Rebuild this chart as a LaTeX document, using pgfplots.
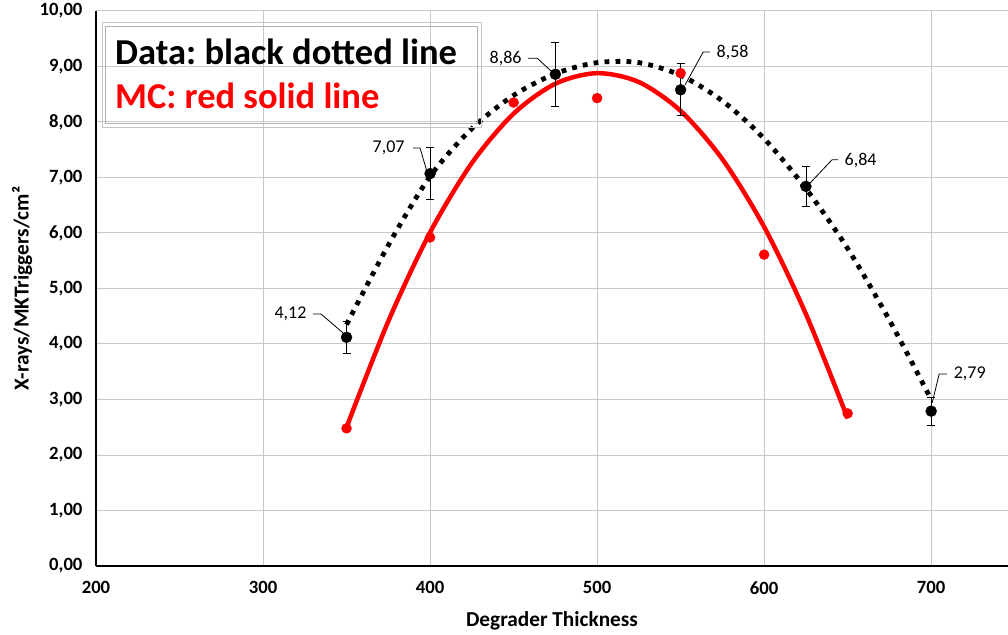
\documentclass[border=0pt]{standalone}
\usepackage{fontspec}
\setmainfont{Carlito}
\usepackage{pgfplots}
\pgfplotsset{compat=1.18}
\definecolor{gridgray}{RGB}{200,200,200}
\definecolor{mcred}{RGB}{255,0,0}
\frenchspacing
\begin{document}
\begin{tikzpicture}[x=1pt,y=1pt]
\path[use as bounding box] (-96,-68) rectangle (912,566);
\begin{axis}[
  at={(0,0)}, anchor=south west,
  scale only axis, width=912pt, height=555pt,
  xmin=200, xmax=746, ymin=0, ymax=10,
  xtick={200,300,...,700}, ytick={0,1,...,10},
  grid=major, grid style={gridgray, line width=1pt},
  axis x line*=bottom, axis y line*=left,
  axis line style={black, line width=2pt, -},
  major tick length=0pt,
  /pgf/number format/assume math mode=true,
  yticklabel style={font=\bfseries\fontsize{18.7}{22}\selectfont, anchor=east, xshift=-10pt,
    /pgf/number format/.cd, fixed, fixed zerofill, precision=2, use comma},
  xticklabel style={font=\bfseries\fontsize{18.7}{22}\selectfont, anchor=north, yshift=-12pt,
    /pgf/number format/.cd, fixed, precision=0, 1000 sep={}},
  xlabel={Degrader Thickness}, ylabel={X-rays/MKTriggers/cm²},
  every axis x label/.style={at={(axis description cs:0.5,-0.099)}, anchor=center},
  every axis y label/.style={at={(axis description cs:-0.0811,0.5)}, rotate=90, anchor=center},
  label style={font=\bfseries\fontsize{21.3}{25}\selectfont},
]
% MC trendline (red solid)
\addplot[mcred, line width=4.5pt, smooth] coordinates {
 (350,2.50) (375,4.41) (400,6.01) (425,7.26) (450,8.15) (475,8.69) (500,8.88)
 (525,8.72) (550,8.20) (575,7.33) (600,6.11) (625,4.54) (650,2.66)};
% Data trendline (black dotted)
\addplot[black, line width=4.8pt, dash pattern=on 4.8pt off 6.2pt, smooth] coordinates {
 (350,4.35) (375,5.78) (400,7.02) (425,7.88) (450,8.48) (475,8.87) (500,9.07)
 (525,9.07) (550,8.84) (575,8.38) (600,7.70) (625,6.80) (650,5.72) (675,4.43) (700,3.00)};
% MC points
\addplot[only marks, mark=*, mark size=5pt, color=mcred, mark options={fill=mcred}] coordinates {
 (350,2.48) (400,5.92) (450,8.35) (500,8.43) (550,8.88) (600,5.61) (650,2.75)};
% Data points with error bars
\addplot[only marks, mark=*, mark size=5.5pt, black,
  error bars/.cd, y dir=both, y explicit,
  error bar style={line width=0.8pt, black},
  error mark options={rotate=90, mark size=4pt, line width=0.8pt, black}]
 table[x=x, y=y, y error=e] {
x y e
350 4.12 0.29
400 7.07 0.47
475 8.86 0.57
550 8.58 0.47
625 6.84 0.36
700 2.79 0.25
};
% data labels with leader lines
\draw[black, line width=0.8pt] (axis cs:329.9,4.54) -- (axis cs:334.7,4.54) -- (axis cs:347.9,4.20);
\node[anchor=east, font=\fontsize{18}{21}\selectfont] at (axis cs:328.1,4.54) {4,12};
\draw[black, line width=0.8pt] (axis cs:389.8,7.53) -- (axis cs:394.0,7.53) -- (axis cs:398.2,7.10);
\node[anchor=east, font=\fontsize{18}{21}\selectfont] at (axis cs:386.8,7.53) {7,07};
\draw[black, line width=0.8pt] (axis cs:458.7,9.15) -- (axis cs:464.1,9.15) -- (axis cs:473.1,8.90);
\node[anchor=east, font=\fontsize{18}{21}\selectfont] at (axis cs:456.9,9.15) {8,86};
\draw[black, line width=0.8pt] (axis cs:567.7,9.26) -- (axis cs:563.5,9.26) -- (axis cs:552.7,8.67);
\node[anchor=west, font=\fontsize{18}{21}\selectfont] at (axis cs:569.5,9.26) {8,58};
\draw[black, line width=0.8pt] (axis cs:644.3,7.32) -- (axis cs:640.7,7.32) -- (axis cs:627.5,6.90);
\node[anchor=west, font=\fontsize{18}{21}\selectfont] at (axis cs:646.1,7.30) {6,84};
\draw[black, line width=0.8pt] (axis cs:709.6,3.46) -- (axis cs:704.8,3.46) -- (axis cs:700.6,2.94);
\node[anchor=west, font=\fontsize{18}{21}\selectfont] at (axis cs:711.4,3.46) {2,79};
\end{axis}
% text box
\draw[gray!45, line width=0.8pt] (6,544) rectangle (385,439);
\draw[gray!60, line width=0.8pt] (9,540) rectangle (381,443);
\node[anchor=base west, inner sep=0pt, font=\bfseries\fontsize{36.5}{42}\selectfont] at (19,501) {Data: black dotted line};
\node[anchor=base west, inner sep=0pt, text=mcred, font=\bfseries\fontsize{36.5}{42}\selectfont] at (19,457) {MC: red solid line};
\end{tikzpicture}
\end{document}
